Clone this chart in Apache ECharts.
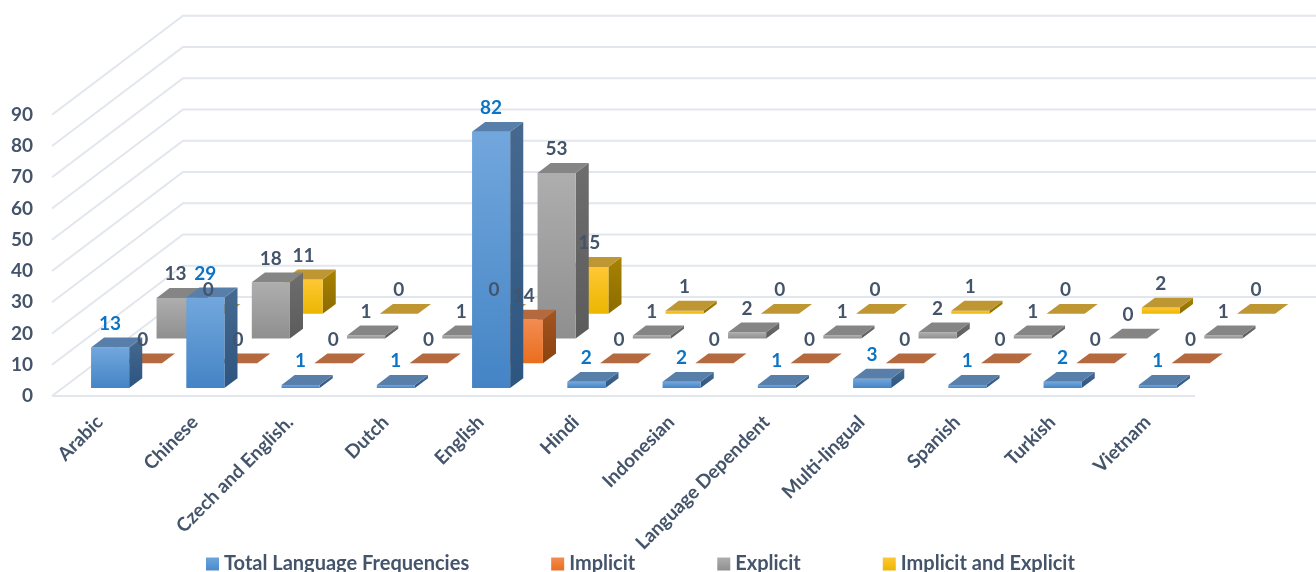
<!DOCTYPE html>
<html>
<head>
<meta charset="utf-8">
<script src="https://cdn.jsdelivr.net/npm/echarts@6/dist/echarts.min.js"></script>
<style>html,body{margin:0;padding:0;background:#fff}#c{width:1316px;height:572px}</style>
</head>
<body>
<div id="c"></div>
<script>
const categories = ['Arabic','Chinese','Czech and English.','Dutch','English','Hindi','Indonesian','Language Dependent','Multi-lingual','Spanish','Turkish','Vietnam'];
const totalFrequencies = [13,29,1,1,82,2,2,1,3,1,2,1];
const implicitValues = [0,0,0,0,14,0,0,0,0,0,0,0];
const explicitValues = [13,18,1,1,53,1,2,1,2,1,0,1];
const bothValues = [0,11,0,0,15,1,0,0,1,0,2,0];
const yTicks = [0,10,20,30,40,50,60,70,80,90];

const FONT = 'Lato';
const TEXT = '#44546A';
const DX = 131, DY = 99;          // full floor depth in pixels
const ROW_DX = DX / 4, ROW_DY = DY / 4;
const F0 = 0.32, FD = 0.4;        // bar start and depth inside a row
const grad = (a, b) => new echarts.graphic.LinearGradient(0, 0, 0, 1, [{offset:0,color:a},{offset:1,color:b}]);

const rows = [
  {name:'Total Language Frequencies', values:totalFrequencies, row:0, label:'#0B74C4',
   front:['#72A7DD','#4484C5'], top:'#587FA9', side:['#47698F','#2C5580'], legend:['#6BA5DE','#4A8ACB']},
  {name:'Implicit', values:implicitValues, row:1, label:TEXT,
   front:['#F28C52','#EA6E1E'], top:'#B5693F', side:['#A5541F','#8A4410'], legend:['#F28C52','#EA6E1E']},
  {name:'Explicit', values:explicitValues, row:2, label:TEXT,
   front:['#AEAEAE','#8F8F8F'], top:'#858585', side:['#6E6E6E','#5B5B5B'], legend:['#AEAEAE','#8F8F8F']},
  {name:'Implicit and Explicit', values:bothValues, row:3, label:TEXT,
   front:['#FFC734','#EBB700'], top:'#BE9632', side:['#A88200','#8C6C00'], legend:['#FFC734','#EBB700']}
];

function barRenderer(cfg) {
  return function (params, api) {
    const cat = api.value(0), val = api.value(1);
    const base = api.coord([cat, 0]), topPt = api.coord([cat, val]);
    const w = api.size([1, 0])[0] * 0.4;
    const ox = ROW_DX * (cfg.row + F0), oy = -ROW_DY * (cfg.row + F0);
    const l = base[0] - w / 2 + ox, r = l + w;
    const b = base[1] + oy, t = topPt[1] + oy;
    const ddx = ROW_DX * FD, ddy = ROW_DY * FD;
    const children = [];
    if (b - t > 0.01) {
      children.push({type:'polygon', shape:{points:[[r,t],[r+ddx,t-ddy],[r+ddx,b-ddy],[r,b]]}, style:{fill:grad(cfg.side[0],cfg.side[1])}});
      children.push({type:'rect', shape:{x:l,y:t,width:w,height:b-t}, style:{fill:grad(cfg.front[0],cfg.front[1])}});
    }
    children.push({type:'polygon', shape:{points:[[l,t],[l+ddx,t-ddy],[r+ddx,t-ddy],[r,t]]}, style:{fill:cfg.top}});
    return {type:'group', children};
  };
}
function labelRenderer(cfg) {
  return function (params, api) {
    const cat = api.value(0), val = api.value(1);
    const topPt = api.coord([cat, val]);
    const ox = ROW_DX * (cfg.row + F0), oy = -ROW_DY * (cfg.row + F0);
    return {type:'text', style:{
      text:String(val), x:topPt[0] + ox, y:topPt[1] + oy - 23.6,
      align:'center', verticalAlign:'middle', fill:cfg.label,
      font:'bold 19px ' + FONT
    }};
  };
}

const series = [];
// walls and floor
series.push({
  type:'custom', name:'walls', silent:true, z:1, data:yTicks.map(v => [0, v]), encode:{x:0,y:1},
  renderItem(params, api) {
    const c = params.coordSys;
    const y = api.coord([0, api.value(1)])[1];
    const x0 = c.x, x1 = c.x + c.width;
    const ls = {stroke:'#E2E6ED', lineWidth:2, fill:null};
    const children = [
      {type:'polyline', shape:{points:[[x0,y],[x0+DX,y-DY],[x1+DX,y-DY]]}, style:ls}
    ];
    if (api.value(1) === 0) children.push({type:'line', shape:{x1:x0,y1:y,x2:x1,y2:y}, style:ls});
    return {type:'group', children};
  }
});
// bars, back row first
[...rows].reverse().forEach(cfg => {
  series.push({
    type:'custom', name:cfg.name, z:2, silent:true,
    itemStyle:{color:grad(cfg.legend[0], cfg.legend[1])},
    data:cfg.values.map((v,i) => [i,v]), encode:{x:0,y:1},
    renderItem:barRenderer(cfg)
  });
});
// data labels on top of every bar
rows.forEach(cfg => {
  series.push({
    type:'custom', name:cfg.name + ' labels', z:5, silent:true,
    data:cfg.values.map((v,i) => [i,v]), encode:{x:0,y:1},
    renderItem:labelRenderer(cfg)
  });
});

const chart = echarts.init(document.getElementById('c'), null, {renderer:'canvas'});
chart.setOption({
  animation:false,
  backgroundColor:'#fff',
  grid:{left:52, top:114.7, width:1143, height:281.3, containLabel:false},
  xAxis:{type:'category', data:categories,
    axisLine:{show:false}, axisTick:{show:false}, splitLine:{show:false},
    axisLabel:{interval:0, rotate:45, margin:23, color:TEXT, fontFamily:FONT, fontWeight:'bold', fontSize:19, hideOverlap:false}},
  yAxis:{type:'value', min:0, max:90, interval:10,
    axisLine:{show:false}, axisTick:{show:false}, splitLine:{show:false},
    axisLabel:{margin:19, color:TEXT, fontFamily:FONT, fontWeight:'bold', fontSize:19, formatter:v => String(v)}},
  legend:{
    data:rows.map(r => r.name), left:201, top:549, itemWidth:13, itemHeight:13, itemGap:82,
    icon:'rect', selectedMode:false,
    textStyle:{color:TEXT, fontFamily:FONT, fontWeight:'bold', fontSize:20}
  },
  series
});
</script>
</body>
</html>
